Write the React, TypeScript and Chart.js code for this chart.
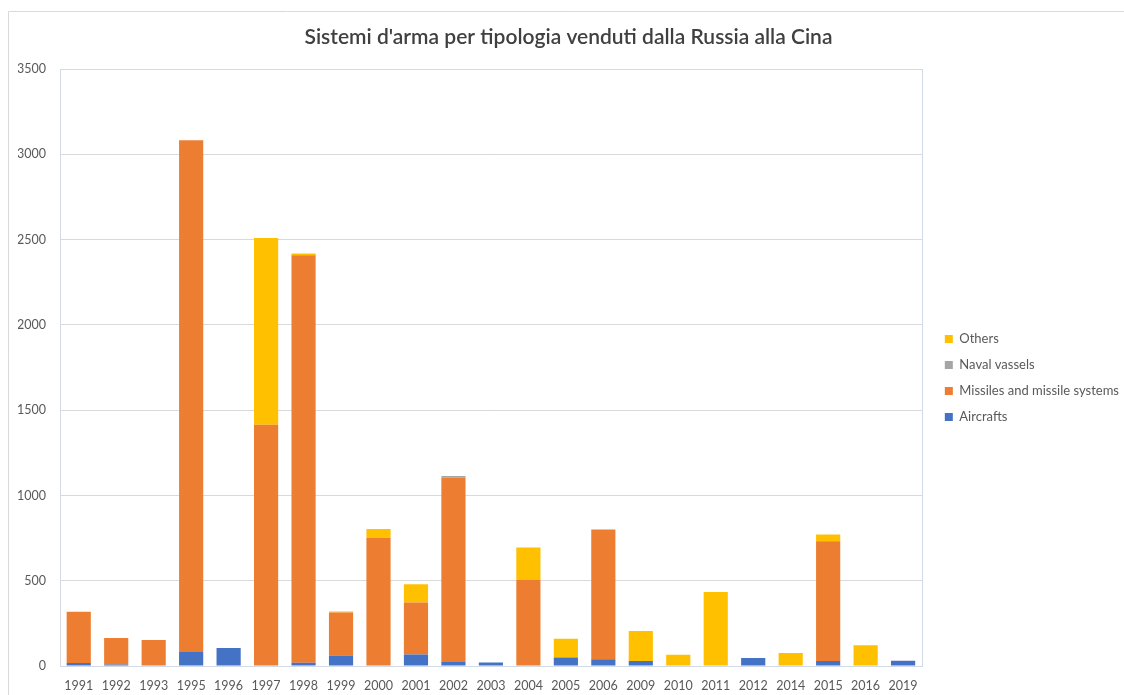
import React, { useEffect, useRef } from "react";
import { Chart, registerables } from "chart.js";

Chart.register(...registerables);

const years = ["1991","1992","1993","1995","1996","1997","1998","1999","2000","2001","2002","2003","2004","2005","2006","2009","2010","2011","2012","2014","2015","2016","2019"];
const aircrafts = [18, 9, 0, 82, 105, 0, 19, 62, 0, 68, 23, 20, 0, 50, 39, 29, 0, 3, 47, 0, 29, 0, 31];
const missiles = [300, 155, 152, 3001, 0, 1415, 2390, 252, 750, 305, 1082, 0, 504, 0, 761, 0, 0, 0, 0, 0, 702, 0, 0];
const naval = [0, 0, 0, 0, 0, 0, 0, 0, 0, 0, 10, 0, 0, 0, 0, 0, 0, 0, 0, 0, 0, 0, 0];
const others = [0, 0, 0, 0, 0, 1095, 10, 6, 53, 107, 0, 0, 191, 110, 0, 176, 66, 431, 0, 76, 40, 121, 0];

const titleText = "Sistemi d'arma per tipologia venduti dalla Russia alla Cina";
const FONT = "Lato, 'Open Sans', sans-serif";

const framePlugin = {
  id: "frames",
  beforeDraw(chart: any) {
    const ctx = chart.ctx;
    ctx.save();
    ctx.fillStyle = "#ffffff";
    ctx.fillRect(0, 0, chart.width, chart.height);
    ctx.strokeStyle = "#d9d9d9";
    ctx.lineWidth = 1;
    ctx.beginPath();
    ctx.moveTo(8.5, chart.height);
    ctx.lineTo(8.5, 11.5);
    ctx.lineTo(chart.width, 11.5);
    ctx.stroke();
    ctx.restore();
  },
  afterLayout(chart: any) {
    const lg = chart.legend;
    if (lg) {
      const dx = 10;
      const dy = 25;
      lg.left += dx;
      lg.right += dx;
      lg.top += dy;
      lg.bottom += dy;
    }
  },
  afterDatasetsDraw(chart: any) {
    const a = chart.chartArea;
    const ctx = chart.ctx;
    ctx.save();
    ctx.strokeStyle = "#d3dae7";
    ctx.lineWidth = 1;
    ctx.strokeRect(Math.round(a.left) + 0.5, Math.round(a.top) + 0.5, Math.round(a.right - a.left), Math.round(a.bottom - a.top));
    ctx.restore();
  },
};

export default function App() {
  const ref = useRef<HTMLCanvasElement | null>(null);
  useEffect(() => {
    document.body.style.margin = "0";
    const canvas = ref.current;
    if (!canvas) return;
    const chart = new Chart(canvas, {
      type: "bar",
      data: {
        labels: years,
        datasets: [
          { label: "Aircrafts", data: aircrafts, backgroundColor: "#4472C4" },
          { label: "Missiles and missile systems", data: missiles, backgroundColor: "#ED7D31" },
          { label: "Naval vassels", data: naval, backgroundColor: "#A5A5A5" },
          { label: "Others", data: others, backgroundColor: "#FFC000" },
        ],
      },
      options: {
        animation: false,
        responsive: true,
        maintainAspectRatio: false,
        datasets: { bar: { barPercentage: 0.645, categoryPercentage: 1 } },
        layout: { padding: { left: 18, top: 14, right: 5, bottom: 3 } },
        plugins: {
          title: {
            display: true,
            text: titleText,
            color: "#404040",
            font: { family: FONT, size: 21, weight: "600" },
            padding: { top: 11, bottom: 19 },
          },
          legend: {
            position: "right",
            reverse: true,
            labels: {
              boxWidth: 8,
              boxHeight: 8,
              padding: 13,
              color: "#595959",
              font: { family: FONT, size: 13 },
            },
          },
          tooltip: { enabled: false },
        },
        scales: {
          x: {
            stacked: true,
            grid: { display: false, drawTicks: false },
            border: { display: false },
            ticks: { color: "#595959", font: { family: FONT, size: 12.5 }, padding: 12, maxRotation: 0, autoSkip: false },
            afterFit: (s: any) => { s.height = 26; },
          },
          y: {
            stacked: true,
            min: 0,
            max: 3500,
            ticks: {
              stepSize: 500,
              color: "#595959",
              font: { family: FONT, size: 12.5 },
              padding: 14,
              callback: (v: any) => String(v),
            },
            grid: { color: "#d9d9d9", drawTicks: false },
            border: { display: false },
            afterFit: (s: any) => { s.width = 42; },
          },
        },
      },
      plugins: [framePlugin],
    });
    return () => chart.destroy();
  }, []);
  return (
    <div style={{ width: 1124, height: 695, position: "relative" }}>
      <canvas ref={ref} />
    </div>
  );
}
